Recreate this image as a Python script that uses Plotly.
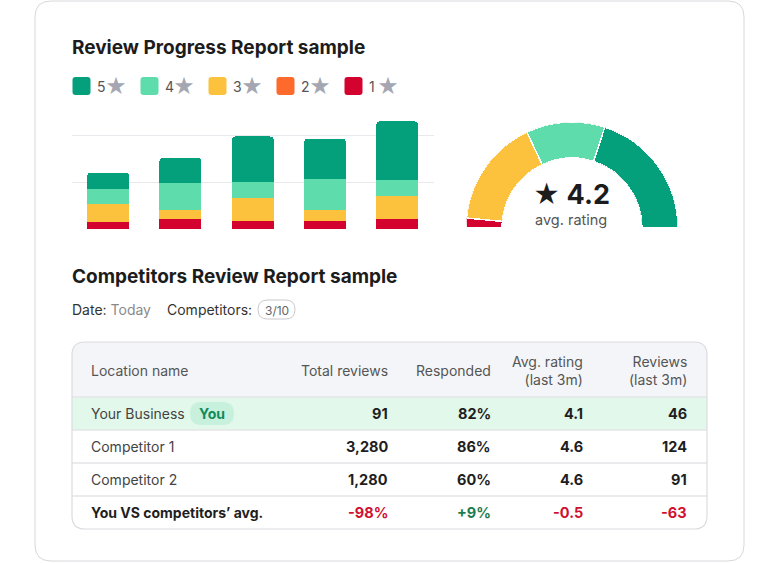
import plotly.graph_objects as go

# ---------------- data ----------------
periods = ["P1", "P2", "P3", "P4", "P5"]
star_levels = ["5", "4", "3", "2", "1"]
star_colors = ["#04a07b", "#5fdcab", "#fdc23d", "#fd6a2b", "#d3022f"]
# stacked review counts per period (index units)
reviews_5 = [3.5, 5.4, 9.6, 8.5, 12.4]
reviews_4 = [3.1, 5.7, 3.5, 6.6, 3.4]
reviews_3 = [4.0, 2.0, 4.8, 2.3, 5.0]
reviews_2 = [0, 0, 0, 0, 0]
reviews_1 = [1.4, 2.1, 1.8, 1.8, 2.1]

gauge_shares = [40, 24, 33, 0, 3]  # % of ratings for 5..1 stars
avg_rating = "4.2"

locations = ["Your Business", "Competitor 1", "Competitor 2"]
total_reviews = ["91", "3,280", "1,280"]
responded = ["82%", "86%", "60%"]
avg_last3m = ["4.1", "4.6", "4.6"]
reviews_last3m = ["46", "124", "91"]
diff_label = "You VS competitors’ avg."
diff_values = ["-98%", "+9%", "-0.5", "-63"]
diff_colors = ["#d0102f", "#1c7d4f", "#d0102f", "#d0102f"]
headers = ["Location name", "Total reviews", "Responded", "Avg. rating<br>(last 3m)", "Reviews<br>(last 3m)"]

# ---------------- helpers ----------------
W, H = 780, 563
FONT = "Inter, 'Noto Sans', sans-serif"


def X(px):
    return px / W


def Y(py):
    return 1 - py / H


def rrect(x0, y0, x1, y1, r, top=True, bottom=True):
    rt = r if top else 0
    rb = r if bottom else 0
    p = f"M {X(x0 + rt)},{Y(y0)} L {X(x1 - rt)},{Y(y0)} "
    p += f"Q {X(x1)},{Y(y0)} {X(x1)},{Y(y0 + rt)} " if rt else ""
    p += f"L {X(x1)},{Y(y1 - rb)} "
    p += f"Q {X(x1)},{Y(y1)} {X(x1 - rb)},{Y(y1)} " if rb else ""
    p += f"L {X(x0 + rb)},{Y(y1)} "
    p += f"Q {X(x0)},{Y(y1)} {X(x0)},{Y(y1 - rb)} " if rb else ""
    p += f"L {X(x0)},{Y(y0 + rt)} "
    p += f"Q {X(x0)},{Y(y0)} {X(x0 + rt)},{Y(y0)} " if rt else ""
    return p + "Z"


shapes = []
annotations = []


def text(px, py, s, size=14, color="#222", anchor="left", bold=False, align=None):
    if anchor == "left":
        px -= 2
    elif anchor == "right":
        px += 2
    annotations.append(dict(
        x=X(px), y=Y(py), xref="paper", yref="paper", text=f"<b>{s}</b>" if bold else s,
        showarrow=False, xanchor=anchor, yanchor="middle", align=align or anchor,
        font=dict(family=FONT, size=size, color=color)))


fig = go.Figure()

# ---------------- stacked bars ----------------
series = [reviews_1, reviews_2, reviews_3, reviews_4, reviews_5]
for i, vals in enumerate(series):
    lvl = 4 - i
    fig.add_trace(go.Bar(x=periods, y=vals, name=star_levels[lvl] + " ★",
                         marker=dict(color=star_colors[lvl], line=dict(width=0)),
                         showlegend=False))

# ---------------- gauge ----------------
thetas, widths, cols = [], [], []
acc = 0
for share, col in zip(gauge_shares, star_colors):
    span = share * 1.8
    if share > 0:
        thetas.append(acc + span / 2)
        widths.append(span)
        cols.append(col)
    acc += span
fig.add_trace(go.Barpolar(r=[1] * len(thetas), theta=thetas, width=widths,
                          marker=dict(color=cols, line=dict(color="white", width=1.5)),
                          showlegend=False, hoverinfo="skip"))

# ---------------- card backgrounds ----------------
shapes.append(dict(type="path", path=rrect(35, 1, 744, 561, 16), xref="paper", yref="paper",
                   line=dict(color="#d8d8dc", width=1), fillcolor="white", layer="below"))

# legend
for i, (lvl, col) in enumerate(zip(star_levels, star_colors)):
    x0 = 72.5 + i * 68
    shapes.append(dict(type="path", path=rrect(x0, 77, x0 + 18, 95, 3), xref="paper", yref="paper",
                       line=dict(width=0), fillcolor=col, layer="above"))
    text(x0 + 24, 86.5, lvl, size=14, color="#555")
    text(x0 + 43.8, 86, "★", size=21, color="#a4a7b1", anchor="center")

text(72, 47, "Review Progress Report sample", size=19, color="#1c1c1c", bold=True)
text(571, 194, f"<span style='font-size:26px'>★</span> {avg_rating}", size=27, color="#1c1c1c",
     anchor="center", bold=True)
text(571, 220, "avg. rating", size=14.5, color="#555", anchor="center")

# second section
text(72, 276, "Competitors Review Report sample", size=19, color="#1c1c1c", bold=True)
text(72, 309, "Date: <span style='color:#8a8a8a'>Today</span>", size=14, color="#333")
text(167, 309, "Competitors:", size=14, color="#333")
shapes.append(dict(type="path", path=rrect(258, 300, 295, 319, 9.5), xref="paper", yref="paper",
                   line=dict(color="#c9c9cd", width=1), fillcolor="white", layer="below"))
text(276.5, 310, "3/10", size=12, color="#666", anchor="center")

# table
TX0, TX1, TY0 = 72, 707, 342
HEAD_H, ROW_H = 55, 33
n_rows = len(locations) + 1
TY1 = TY0 + HEAD_H + ROW_H * n_rows
shapes.append(dict(type="path", path=rrect(TX0, TY0, TX1, TY1, 13), xref="paper", yref="paper",
                   line=dict(width=0), fillcolor="white", layer="below"))
shapes.append(dict(type="path", path=rrect(TX0, TY0, TX1, TY0 + HEAD_H, 13, bottom=False),
                   xref="paper", yref="paper", line=dict(width=0), fillcolor="#f4f5f8", layer="below"))
shapes.append(dict(type="rect", x0=X(TX0), x1=X(TX1), y0=Y(TY0 + HEAD_H), y1=Y(TY0 + HEAD_H + ROW_H),
                   xref="paper", yref="paper", line=dict(width=0), fillcolor="#e1f8ea", layer="below"))
for k in range(n_rows):
    yy = TY0 + HEAD_H + ROW_H * k
    shapes.append(dict(type="line", x0=X(TX0), x1=X(TX1), y0=Y(yy), y1=Y(yy), xref="paper", yref="paper",
                       line=dict(color="#e4e4e8", width=1.5), layer="below"))
shapes.append(dict(type="path", path=rrect(TX0, TY0, TX1, TY1, 13), xref="paper", yref="paper",
                   line=dict(color="#dcdce0", width=1.2), fillcolor="rgba(0,0,0,0)", layer="below"))

col_right = [388, 491, 583, 687]
text(91, TY0 + HEAD_H / 2 + 1, headers[0], size=14, color="#555")
for h, xr in zip(headers[1:], col_right):
    text(xr, TY0 + HEAD_H / 2 + 1, h, size=14, color="#555", anchor="right")

for r, (loc, a, b, c, d) in enumerate(zip(locations, total_reviews, responded, avg_last3m, reviews_last3m)):
    yc = TY0 + HEAD_H + ROW_H * r + ROW_H / 2
    text(91, yc, loc, size=14, color="#444")
    for v, xr in zip([a, b, c, d], col_right):
        text(xr, yc, v, size=14.5, color="#1e1e1e", anchor="right", bold=True)
    if r == 0:
        shapes.append(dict(type="path", path=rrect(190, yc - 11.5, 234, yc + 11.5, 11.5), xref="paper",
                           yref="paper", line=dict(width=0), fillcolor="#c7f1dc", layer="below"))
        text(212, yc, "You", size=14, color="#138a5c", anchor="center", bold=True)

yc = TY0 + HEAD_H + ROW_H * len(locations) + ROW_H / 2
text(91, yc, diff_label, size=14, color="#1e1e1e", bold=True)
for v, c, xr in zip(diff_values, diff_colors, col_right):
    text(xr, yc, v, size=14.5, color=c, anchor="right", bold=True)

# ---------------- layout ----------------
fig.update_layout(
    width=W, height=H, margin=dict(l=0, r=0, t=0, b=0),
    paper_bgcolor="white", plot_bgcolor="rgba(0,0,0,0)",
    barmode="stack", bargap=0.42, barcornerradius=4,
    xaxis=dict(domain=[X(72), X(433.5)], range=[-0.5, 4.5], visible=False, fixedrange=True),
    yaxis=dict(domain=[Y(229), Y(229 - 24 * 4.7)], range=[0, 24], tickvals=[0, 10, 20],
               showgrid=True, gridcolor="#e8e8ed", gridwidth=1.2, zeroline=False,
               showticklabels=False, ticks="", showline=False, fixedrange=True),
    polar=dict(domain=dict(x=[X(466), X(678)], y=[Y(228), Y(122)]), sector=[0, 180], hole=0.66,
               bgcolor="rgba(0,0,0,0)",
               radialaxis=dict(visible=False, range=[0, 1]),
               angularaxis=dict(visible=False, direction="counterclockwise", rotation=0)),
    shapes=shapes, annotations=annotations, showlegend=False,
    font=dict(family=FONT),
)

fig.write_html("out.html", config={"displayModeBar": False},
               post_script="document.body.style.margin='0';document.body.style.overflow='hidden';")
